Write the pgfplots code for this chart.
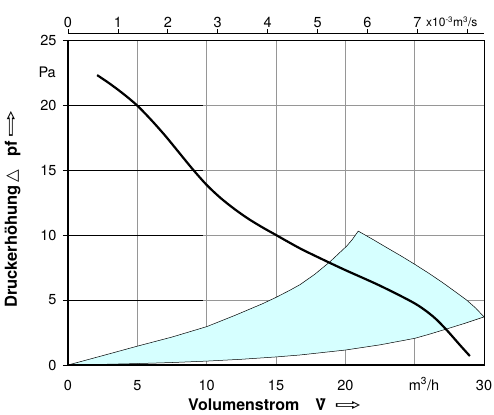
\documentclass[border=0pt]{standalone}
\usepackage{pgfplots}
\pgfplotsset{compat=1.18}
\usepackage{fontspec}
\setmainfont{TeX Gyre Heros}
\newfontfamily\dejavu{DejaVu Sans}
\definecolor{fillcyan}{RGB}{214,255,255}
\definecolor{gridgray}{RGB}{150,150,150}
\newcommand{\rarrow}{{\dejavu\mdseries\scalebox{2}[1]{⇨}}}

\begin{document}
\begin{tikzpicture}
\path[use as bounding box] (-68pt,-49pt) rectangle (426pt,365pt);
% main axis: m^3/h against Pa
\begin{axis}[
    at={(0pt,0pt)}, anchor=south west,
    scale only axis, width=416pt, height=325pt,
    xmin=0, xmax=30, ymin=0, ymax=25,
    xtick={0,5,10,15,20,25,30},
    xticklabels={0,5,10,15,20,{},30},
    ytick={0,5,10,15,20,25},
    ytick pos=left,
    tick align=outside,
    major tick length=5pt,
    xtick style={draw=none},
    ytick style={black, line width=0.8pt},
    xmajorgrids=true, ymajorgrids=true,
    grid style={gridgray, line width=0.6pt},
    axis line style={black, line width=0.7pt},
    tick label style={font=\fontsize{14.5}{15}\selectfont},
    xticklabel style={anchor=base, yshift=-20pt},
    yticklabel style={anchor=east, xshift=-3pt},
    /pgf/number format/assume math mode=true,
    clip=false,
]
\pgfplotsinvokeforeach{5,10,15,20}{
    \draw[black, line width=0.8pt] (axis cs:0,#1) -- (axis cs:9.7,#1);
}
% operating range
\addplot[fill=fillcyan, draw=black, line width=0.5pt] coordinates {
    (0,0)(2.5,0.72)(5,1.45)(7.5,2.15)(10,2.95)(12,3.8)(14,4.7)(15,5.2)
    (16,5.75)(16.73,6.18)(17.8,6.98)(18.9,7.95)(19.6,8.65)(20.1,9.15)(20.5,9.65)(20.93,10.3)
    (22,9.65)(23,9.02)(24,8.4)(25,7.75)(26,7.07)(27,6.35)(28,5.58)(28.74,5.0)(29.4,4.38)(30,3.7)
    (28.6,3.2)(27.3,2.77)(26,2.35)(25,2.05)(22.5,1.55)(20,1.15)(16.73,0.77)(15,0.62)(12.5,0.44)(10,0.3)
    (7.5,0.19)(5,0.11)(2.5,0.05)(0,0)
} -- cycle;
% fan curve
\addplot[black, line width=2.2pt, smooth] coordinates {
    (2.1,22.3)(3,21.65)(4,20.85)(5,19.95)(6,18.85)(7,17.65)(8,16.35)(9,15.05)
    (10,13.85)(11,12.85)(12,12.0)(13,11.25)(14,10.6)(15,10.0)(16.73,8.97)
    (18.5,8.05)(20,7.3)(22.5,6.1)(25,4.74)(26.34,3.72)(27.3,2.7)(28.26,1.54)(28.98,0.69)
};
\draw[black, line width=2pt] (rel axis cs:0,1) -- (rel axis cs:0,0) -- (rel axis cs:1,0);
\node[anchor=east, inner sep=0pt, font=\fontsize{14.5}{15}\selectfont] at ([xshift=-12pt]axis cs:0,22.5) {Pa};
\node[anchor=base, inner sep=0pt, font=\fontsize{14.5}{15}\selectfont] at ([yshift=-25pt]axis cs:25.67,0) {m\textsuperscript{3}/h};
\end{axis}
% top axis: 10^-3 m^3/s
\begin{axis}[
    at={(0pt,6.5pt)}, anchor=south west,
    scale only axis, width=416pt, height=325pt,
    xmin=0, xmax=8.33333, ymin=0, ymax=1,
    axis x line*=top, axis y line=none,
    xtick={0,1,2,3,4,5,6,7,8},
    xticklabels={0,1,2,3,4,5,6,7,{}},
    tick align=outside,
    major tick length=4pt,
    xtick style={black, line width=0.7pt},
    axis line style={black, line width=0.9pt},
    tick label style={font=\fontsize{14.5}{15}\selectfont},
    xticklabel style={anchor=base, yshift=2pt},
    /pgf/number format/assume math mode=true,
    clip=false,
]
\addplot[draw=none] coordinates {(0,0)};
\end{axis}
\node[anchor=base west, inner sep=0pt, font=\fontsize{12}{12}\selectfont] at (358pt,338pt) {x10\textsuperscript{-3}m\textsuperscript{3}/s};
\node[rotate=90, anchor=base, inner sep=0pt, font=\fontsize{16.5}{17}\selectfont\bfseries]
    at (-51pt,156pt) {Druckerhöhung\,{\dejavu\mdseries △}\ \ \ pf\,\rarrow};
\node[anchor=base west, inner sep=0pt, font=\fontsize{16}{16}\selectfont\bfseries]
    at (120pt,-45pt) {Volumenstrom\quad\.V\ \ \rarrow};
\end{tikzpicture}
\end{document}
